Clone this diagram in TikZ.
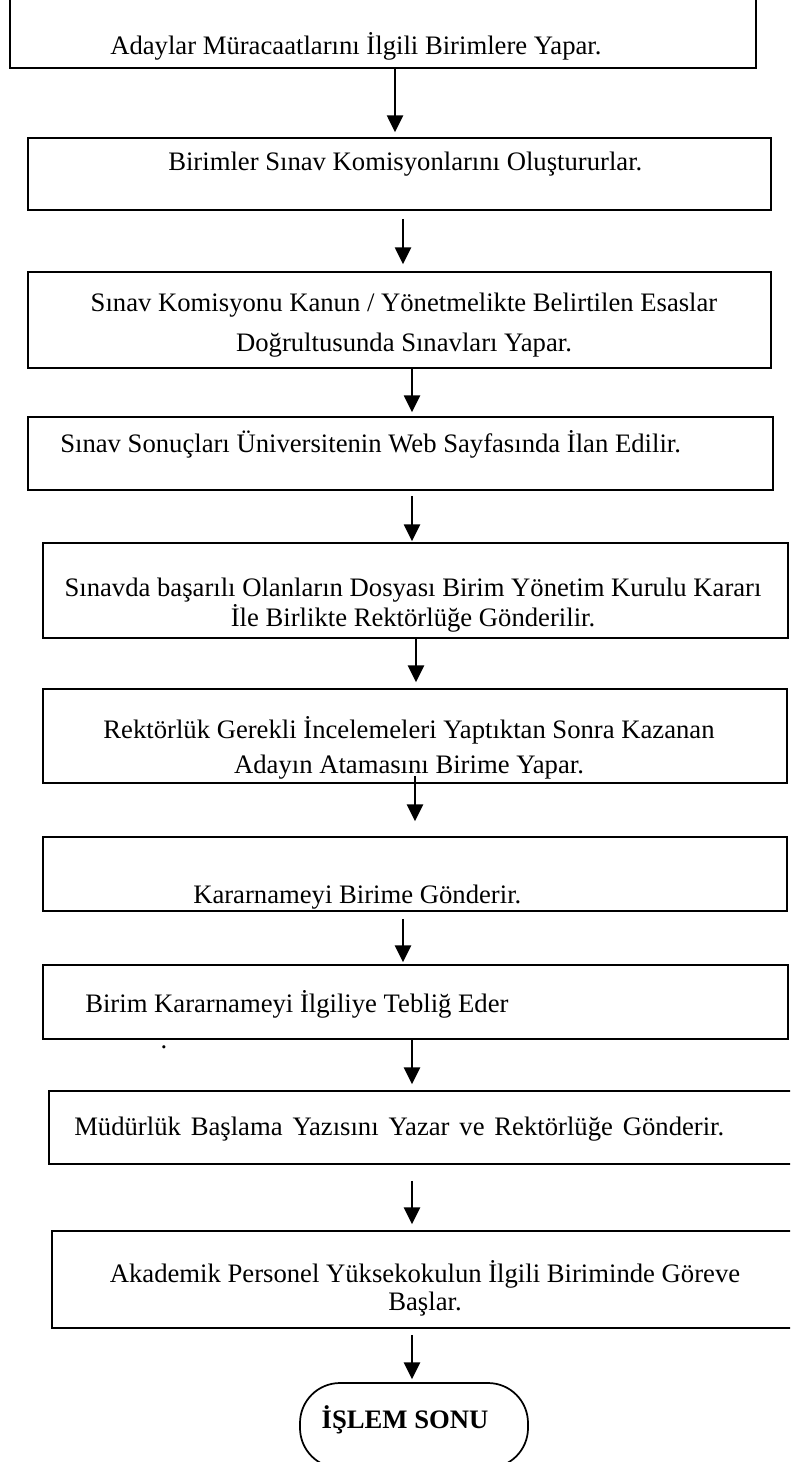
\documentclass[tikz,border=0pt]{standalone}
\usepackage{fontspec}
\setmainfont{Liberation Serif}
\usetikzlibrary{arrows.meta, shapes}
\tikzset{
  boxnode/.style={draw, rectangle, line width=1.3pt, inner sep=0pt},
  textnode/.style={inner sep=0pt, align=center, font=\fontsize{20}{24}\selectfont},
  endnode/.style={draw, rectangle, rounded corners=30pt, line width=1.3pt, inner sep=0pt, minimum width=171pt, minimum height=63.75pt},
  arrow/.style={-{Triangle[width=12pt, length=12.5pt]}, line width=1.5pt}
}
\begin{document}
\begin{tikzpicture}[x=0.75pt, y=-0.75pt]

\useasboundingbox (0,0) rectangle (790,1462);
\clip (0,0) rectangle (790,1462);
\fill[white] (0,0) rectangle (790,1462);

% Boxes
\node[boxnode, minimum width=559.5pt, minimum height=58.5pt] (b1) at (383,29) {};
\node[boxnode, minimum width=557.25pt, minimum height=54pt] (b2) at (399.5,174) {};
\node[boxnode, minimum width=557.25pt, minimum height=72pt] (b3) at (399.5,320) {};
\node[boxnode, minimum width=558.75pt, minimum height=54.75pt] (b4) at (400.5,453.5) {};
\node[boxnode, minimum width=558.75pt, minimum height=71.25pt] (b5) at (415.5,590.5) {};
\node[boxnode, minimum width=558pt, minimum height=70.5pt] (b6) at (415,736) {};
\node[boxnode, minimum width=558pt, minimum height=55.5pt] (b7) at (415,874) {};
\node[boxnode, minimum width=558.75pt, minimum height=55.5pt] (b8) at (415.5,1002) {};
\node[boxnode, minimum width=570.75pt, minimum height=54.75pt] (b9) at (429.5,1127.5) {};
\node[boxnode, minimum width=568.5pt, minimum height=72.75pt] (b10) at (431,1279.5) {};
\node[endnode] (son) at (414,1425.5) {};

% Texts
\node[textnode, anchor=west] (t1) at (110,46) {Adaylar Müracaatlarını İlgili Birimlere Yapar.};
\node[textnode, anchor=west] (t2) at (168,164) {Birimler Sınav Komisyonlarını Oluştururlar.};
\node[textnode, font=\fontsize{20}{30}\selectfont] (t3) at (404,325) {Sınav Komisyonu Kanun / Yönetmelikte Belirtilen Esaslar\\Doğrultusunda Sınavları Yapar.};
\node[textnode, anchor=west] (t4) at (60,444) {Sınav Sonuçları Üniversitenin Web Sayfasında İlan Edilir.};
\node[textnode, font=\fontsize{20}{22.5}\selectfont] (t5) at (413,605) {Sınavda başarılı Olanların Dosyası Birim Yönetim Kurulu Kararı\\İle Birlikte Rektörlüğe Gönderilir.};
\node[textnode, font=\fontsize{20}{26.25}\selectfont] (t6) at (409,747.5) {Rektörlük Gerekli İncelemeleri Yaptıktan Sonra Kazanan\\Adayın Atamasını Birime Yapar.};
\node[textnode, anchor=west] (t7) at (193,897) {Kararnameyi Birime Gönderir.};
\node[textnode, anchor=west] (t8) at (85,1004) {Birim Kararnameyi İlgiliye Tebliğ Eder};
\node[textnode] (dot) at (164,1047) {.};
\node[textnode, anchor=west] (t9) at (74,1129) {\spaceskip=7.4pt Müdürlük Başlama Yazısını Yazar ve Rektörlüğe Gönderir.};
\node[textnode, font=\fontsize{20}{21}\selectfont] (t10) at (425,1288) {Akademik Personel Yüksekokulun İlgili Biriminde Göreve\\Başlar.};
\node[textnode, font=\bfseries\fontsize{20}{24}\selectfont] (tson) at (405,1420) {İŞLEM SONU};

% Edges
\draw[arrow] ([xshift=9pt]b1.south) -- ([xshift=-3.375pt, yshift=3.75pt]b2.north);
\draw[arrow] ([xshift=2.625pt, yshift=-6pt]b2.south) -- ([xshift=2.625pt, yshift=5.25pt]b3.north);
\draw[arrow] ([xshift=9.375pt]b3.south) -- ([xshift=8.625pt, yshift=3pt]b4.north);
\draw[arrow] ([xshift=8.625pt, yshift=-3.75pt]b4.south) -- ([xshift=-2.625pt, yshift=0.75pt]b5.north);
\draw[arrow] ([xshift=0.375pt]b5.south) -- ([xshift=0.75pt, yshift=4.5pt]b6.north);
\draw[arrow] ([yshift=6pt]b6.south) -- ([yshift=11.25pt]b7.north);
\draw[arrow] ([xshift=-9pt, yshift=-5.25pt]b7.south) -- ([xshift=-9.375pt, yshift=1.5pt]b8.north);
\draw[arrow] ([xshift=-2.625pt]b8.south) -- ([xshift=-13.125pt, yshift=4.5pt]b9.north);
\draw[arrow] ([xshift=-13.125pt, yshift=-12pt]b9.south) -- ([xshift=-14.25pt, yshift=4.5pt]b10.north);
\draw[arrow] ([xshift=-14.25pt, yshift=-4.5pt]b10.south) -- ([xshift=-1.5pt, yshift=2.25pt]son.north);

\end{tikzpicture}
\end{document}
